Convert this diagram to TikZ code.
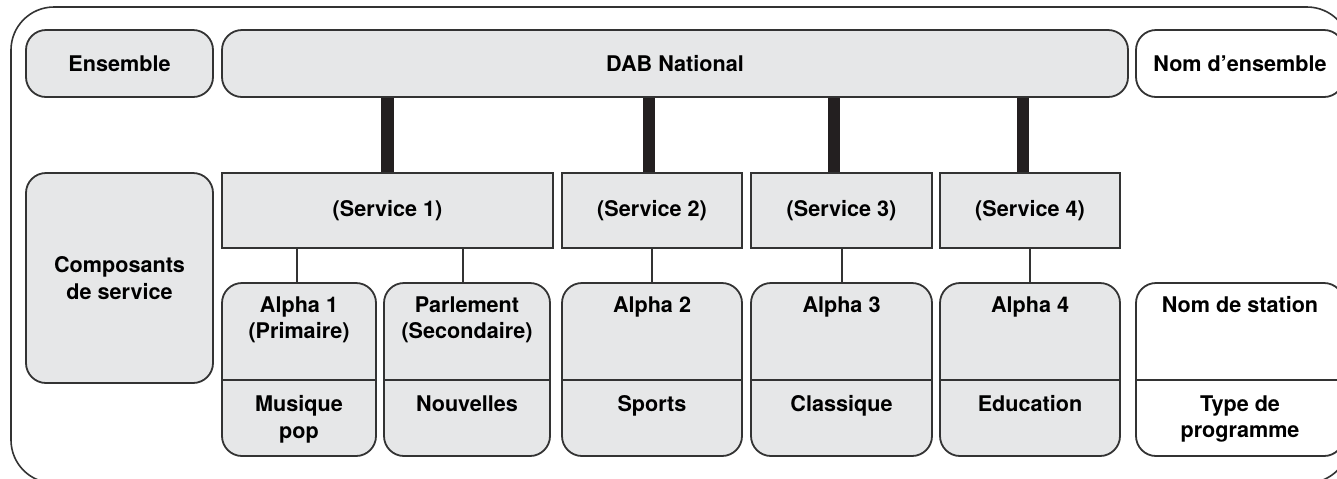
\documentclass[tikz,border=0pt]{standalone}
\usepackage{fontspec}
\setmainfont{TeX Gyre Heros}
\usepackage{xcolor}
\usepackage{tikz}
\usetikzlibrary{positioning,calc}

\definecolor{boxgray}{HTML}{E6E7E8}
\definecolor{linegray}{HTML}{333333}
\definecolor{bargray}{HTML}{231F20}

\tikzset{
  outline/.style={draw=linegray, line width=0.9pt},
  rbox/.style={outline, fill=boxgray, rounded corners=10pt, inner sep=0pt, align=center},
  sbox/.style={outline, fill=boxgray, inner sep=0pt, minimum height=37.5pt},
  lbl/.style={align=center, inner sep=0pt},
  bar/.style={draw=bargray, line width=6.25pt},
  link/.style={draw=linegray, line width=1pt},
}

\begin{document}
\begin{tikzpicture}[x=0.5pt, y=-0.5pt, font=\fontsize{10.8}{13.3}\selectfont\bfseries]
\useasboundingbox (0,0) rectangle (1337,478);
\draw[outline, line width=0.8pt, rounded corners=21.5pt] (11,7) rectangle (1350,483);

% ensemble row
\node[rbox, minimum width=93.5pt, minimum height=33.5pt] (ens) at (119.5,63.5) {Ensemble};
\node[rbox, minimum width=453pt, minimum height=33.5pt] (dab) at (675,63.5) {DAB National};
\node[rbox, fill=white, minimum width=104pt, minimum height=33.5pt] (nomens) at (1240,63.5) {Nom d’ensemble};

% services
\node[rbox, minimum width=93.5pt, minimum height=105pt] (comp) at (119.5,278) {Composants\\de service};
\foreach \n/\cx/\w/\k in {s1/387.5/165.5/1, s2/652/90/2, s3/841.5/90.5/3, s4/1030/90/4}
  \node[sbox, minimum width=\w pt] (\n) at (\cx,210.5) {(Service \k)};

% service components
\foreach \n/\cx/\w/\f/\up/\down in {
    a1/299/77/boxgray/{Alpha 1\\(Primaire)}/{Musique\\pop},
    parl/467/83/boxgray/{Parlement\\(Secondaire)}/{Nouvelles},
    a2/652/90/boxgray/{Alpha 2}/{Sports},
    a3/841.5/90.5/boxgray/{Alpha 3}/{Classique},
    a4/1030/90/boxgray/{Alpha 4}/{Education},
    stn/1240/104/white/{Nom de station}/{Type de\\programme}} {
  \node[rbox, fill=\f, minimum width=\w pt, minimum height=86.5pt] (\n) at (\cx,369.5) {};
  \draw[outline] ([yshift=-49pt]\n.north west) -- ([yshift=-49pt]\n.north east);
  \node[lbl, anchor=north] (\n-up) at ([yshift=-7pt]\n.north) {\up};
  \node[lbl, anchor=north] (\n-dn) at ([yshift=-56.5pt]\n.north) {\down};
}

% connectors
\foreach \n/\dx in {s1/0, s2/-1.5, s3/-3.75, s4/-3.5}
  \draw[bar] ([xshift=\dx pt]\n.north) -- ([xshift=\dx pt]\n.north |- dab.south);
\foreach \c/\p/\dx in {a1/s1/-1, parl/s1/-2, a2/s2/0, a3/s3/0, a4/s4/0}
  \draw[link] ([xshift=\dx pt]\c.north) -- ([xshift=\dx pt]\c.north |- \p.south);
\end{tikzpicture}
\end{document}
